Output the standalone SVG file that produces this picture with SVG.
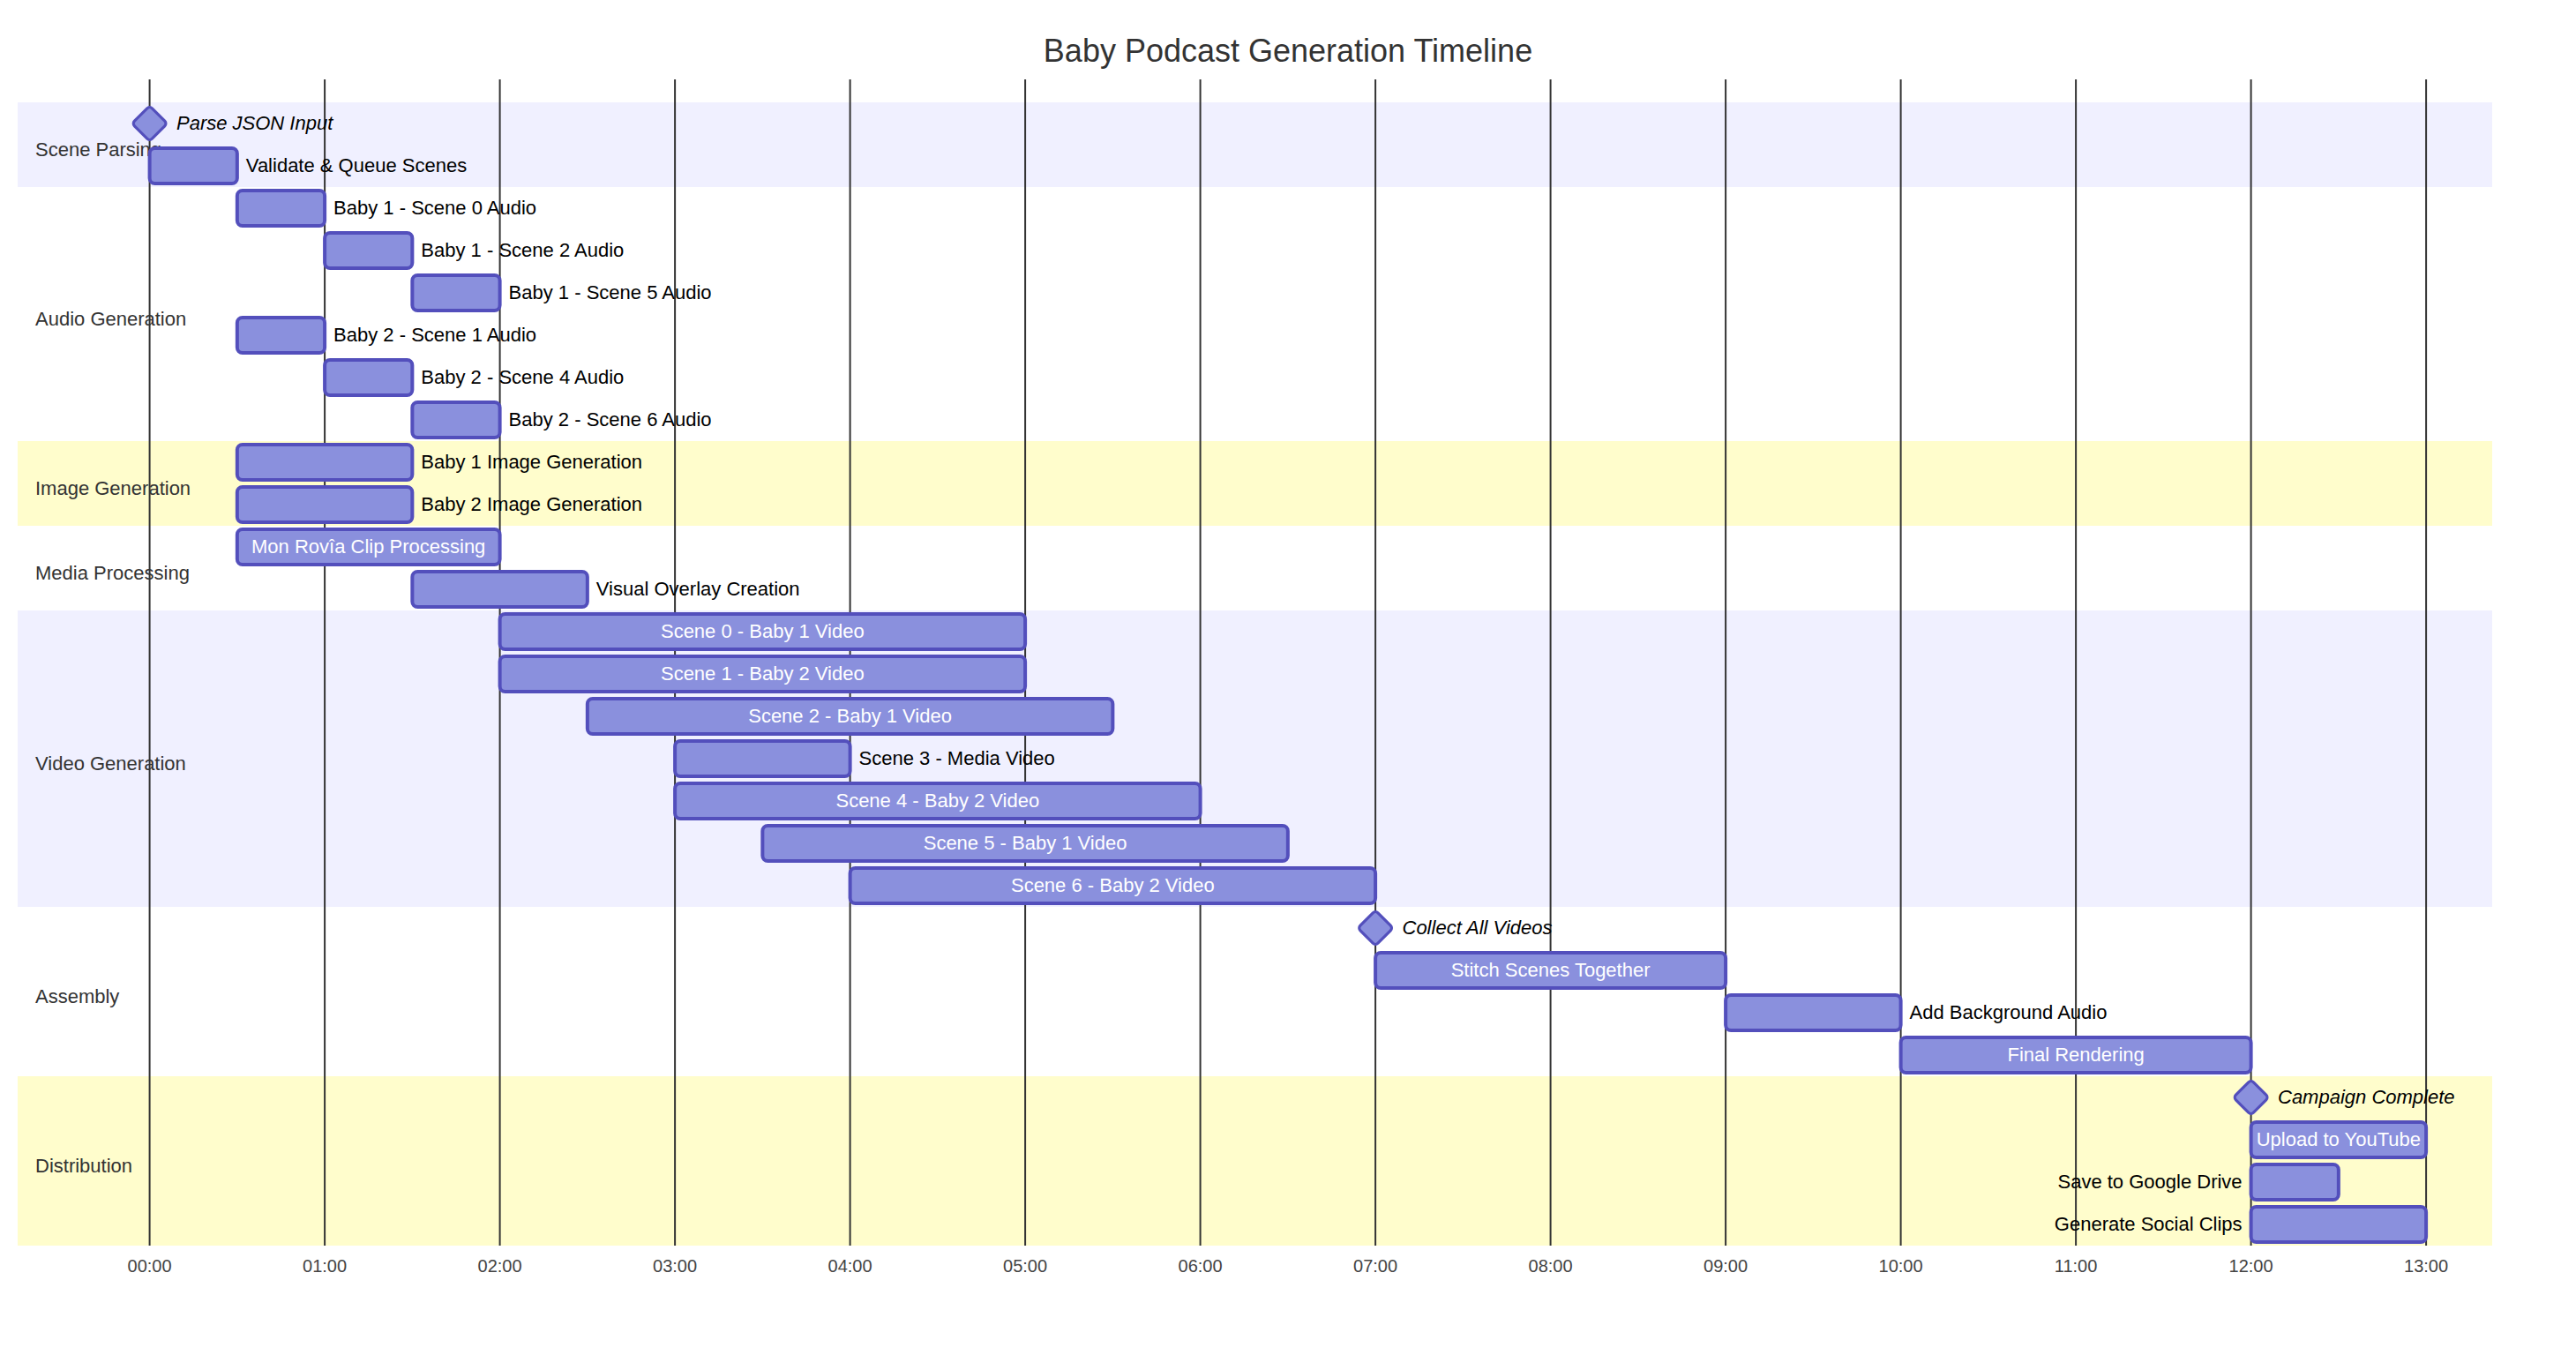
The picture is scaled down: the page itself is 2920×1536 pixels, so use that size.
<svg xmlns="http://www.w3.org/2000/svg" width="2920" height="1536" viewBox="0 0 2920 1536">
<style>
text{font-family:"Liberation Sans",Arial,sans-serif}
.title{font-size:36px;fill:#333;text-anchor:middle}
.sec0{fill:#f0f0ff}
.sec2{fill:#fffdcc}
.grid line{stroke:#333;stroke-width:2}
.tick{font-size:20px;fill:#444;text-anchor:middle}
.stitle{font-size:22px;fill:#333}
.bar{fill:#8a90dd;stroke:#534fbc;stroke-width:4}
.ms{fill:#8a90dd;stroke:#534fbc;stroke-width:3.2}
.out{font-size:22px;fill:#000}
.outL{font-size:22px;fill:#000;text-anchor:end}
.in{font-size:22px;fill:#fff;text-anchor:middle}
.mst{font-size:22px;fill:#000;font-style:italic}
</style>
<rect width="2920" height="1536" fill="#fff"/>
<text class="title" x="1460" y="70">Baby Podcast Generation Timeline</text>

<g id="sections">
<rect class="sec0" x="20" y="116" width="2805" height="96"/>
<rect class="sec2" x="20" y="500" width="2805" height="96"/>
<rect class="sec0" x="20" y="692" width="2805" height="336"/>
<rect class="sec2" x="20" y="1220" width="2805" height="192"/>
</g>

<g id="grid" class="grid">
<line x1="169.6" y1="90" x2="169.6" y2="1412"/>
<line x1="368.1" y1="90" x2="368.1" y2="1412"/>
<line x1="566.6" y1="90" x2="566.6" y2="1412"/>
<line x1="765.1" y1="90" x2="765.1" y2="1412"/>
<line x1="963.6" y1="90" x2="963.6" y2="1412"/>
<line x1="1162.1" y1="90" x2="1162.1" y2="1412"/>
<line x1="1360.6" y1="90" x2="1360.6" y2="1412"/>
<line x1="1559.1" y1="90" x2="1559.1" y2="1412"/>
<line x1="1757.6" y1="90" x2="1757.6" y2="1412"/>
<line x1="1956.1" y1="90" x2="1956.1" y2="1412"/>
<line x1="2154.6" y1="90" x2="2154.6" y2="1412"/>
<line x1="2353.1" y1="90" x2="2353.1" y2="1412"/>
<line x1="2551.6" y1="90" x2="2551.6" y2="1412"/>
<line x1="2750.1" y1="90" x2="2750.1" y2="1412"/>
<text class="tick" x="169.6" y="1442">00:00</text>
<text class="tick" x="368.1" y="1442">01:00</text>
<text class="tick" x="566.6" y="1442">02:00</text>
<text class="tick" x="765.1" y="1442">03:00</text>
<text class="tick" x="963.6" y="1442">04:00</text>
<text class="tick" x="1162.1" y="1442">05:00</text>
<text class="tick" x="1360.6" y="1442">06:00</text>
<text class="tick" x="1559.1" y="1442">07:00</text>
<text class="tick" x="1757.6" y="1442">08:00</text>
<text class="tick" x="1956.1" y="1442">09:00</text>
<text class="tick" x="2154.6" y="1442">10:00</text>
<text class="tick" x="2353.1" y="1442">11:00</text>
<text class="tick" x="2551.6" y="1442">12:00</text>
<text class="tick" x="2750.1" y="1442">13:00</text>
</g>

<g id="section-titles">
<text class="stitle" x="40" y="176.5">Scene Parsing</text>
<text class="stitle" x="40" y="368.5">Audio Generation</text>
<text class="stitle" x="40" y="560.5">Image Generation</text>
<text class="stitle" x="40" y="656.5">Media Processing</text>
<text class="stitle" x="40" y="872.5">Video Generation</text>
<text class="stitle" x="40" y="1136.5">Assembly</text>
<text class="stitle" x="40" y="1328.5">Distribution</text>
</g>

<g id="connectors"></g>

<g id="parse-json">
<rect class="ms" x="-14.14" y="-14.14" width="28.28" height="28.28" rx="4" transform="translate(169.6,140) rotate(45)"/>
<text class="mst" x="200" y="147">Parse JSON Input</text>
</g>
<g id="validate">
<rect class="bar" x="169.6" y="168" width="99.25" height="40" rx="6"/>
<text class="out" x="278.85" y="195">Validate &amp; Queue Scenes</text>
</g>

<g id="b1s0audio">
<rect class="bar" x="268.85" y="216" width="99.25" height="40" rx="6"/>
<text class="out" x="378.1" y="243">Baby 1 - Scene 0 Audio</text>
</g>
<g id="b1s2audio">
<rect class="bar" x="368.1" y="264" width="99.25" height="40" rx="6"/>
<text class="out" x="477.35" y="291">Baby 1 - Scene 2 Audio</text>
</g>
<g id="b1s5audio">
<rect class="bar" x="467.35" y="312" width="99.25" height="40" rx="6"/>
<text class="out" x="576.6" y="339">Baby 1 - Scene 5 Audio</text>
</g>
<g id="b2s1audio">
<rect class="bar" x="268.85" y="360" width="99.25" height="40" rx="6"/>
<text class="out" x="378.1" y="387">Baby 2 - Scene 1 Audio</text>
</g>
<g id="b2s4audio">
<rect class="bar" x="368.1" y="408" width="99.25" height="40" rx="6"/>
<text class="out" x="477.35" y="435">Baby 2 - Scene 4 Audio</text>
</g>
<g id="b2s6audio">
<rect class="bar" x="467.35" y="456" width="99.25" height="40" rx="6"/>
<text class="out" x="576.6" y="483">Baby 2 - Scene 6 Audio</text>
</g>

<g id="b1image">
<rect class="bar" x="268.85" y="504" width="198.5" height="40" rx="6"/>
<text class="out" x="477.35" y="531">Baby 1 Image Generation</text>
</g>
<g id="b2image">
<rect class="bar" x="268.85" y="552" width="198.5" height="40" rx="6"/>
<text class="out" x="477.35" y="579">Baby 2 Image Generation</text>
</g>

<g id="monrovia">
<rect class="bar" x="268.85" y="600" width="297.75" height="40" rx="6"/>
<text class="in" x="417.7" y="627">Mon Rovîa Clip Processing</text>
</g>
<g id="overlay">
<rect class="bar" x="467.35" y="648" width="198.5" height="40" rx="6"/>
<text class="out" x="675.85" y="675">Visual Overlay Creation</text>
</g>

<g id="s0video">
<rect class="bar" x="566.6" y="696" width="595.5" height="40" rx="6"/>
<text class="in" x="864.35" y="723">Scene 0 - Baby 1 Video</text>
</g>
<g id="s1video">
<rect class="bar" x="566.6" y="744" width="595.5" height="40" rx="6"/>
<text class="in" x="864.35" y="771">Scene 1 - Baby 2 Video</text>
</g>
<g id="s2video">
<rect class="bar" x="665.85" y="792" width="595.5" height="40" rx="6"/>
<text class="in" x="963.6" y="819">Scene 2 - Baby 1 Video</text>
</g>
<g id="s3video">
<rect class="bar" x="765.1" y="840" width="198.5" height="40" rx="6"/>
<text class="out" x="973.6" y="867">Scene 3 - Media Video</text>
</g>
<g id="s4video">
<rect class="bar" x="765.1" y="888" width="595.5" height="40" rx="6"/>
<text class="in" x="1062.85" y="915">Scene 4 - Baby 2 Video</text>
</g>
<g id="s5video">
<rect class="bar" x="864.35" y="936" width="595.5" height="40" rx="6"/>
<text class="in" x="1162.1" y="963">Scene 5 - Baby 1 Video</text>
</g>
<g id="s6video">
<rect class="bar" x="963.6" y="984" width="595.5" height="40" rx="6"/>
<text class="in" x="1261.35" y="1011">Scene 6 - Baby 2 Video</text>
</g>

<g id="collect">
<rect class="ms" x="-14.14" y="-14.14" width="28.28" height="28.28" rx="4" transform="translate(1559.1,1052) rotate(45)"/>
<text class="mst" x="1589.5" y="1059">Collect All Videos</text>
</g>
<g id="stitch">
<rect class="bar" x="1559.1" y="1080" width="397" height="40" rx="6"/>
<text class="in" x="1757.6" y="1107">Stitch Scenes Together</text>
</g>
<g id="bgaudio">
<rect class="bar" x="1956.1" y="1128" width="198.5" height="40" rx="6"/>
<text class="out" x="2164.6" y="1155">Add Background Audio</text>
</g>
<g id="render">
<rect class="bar" x="2154.6" y="1176" width="397" height="40" rx="6"/>
<text class="in" x="2353.1" y="1203">Final Rendering</text>
</g>

<g id="campaign">
<rect class="ms" x="-14.14" y="-14.14" width="28.28" height="28.28" rx="4" transform="translate(2551.6,1244) rotate(45)"/>
<text class="mst" x="2582" y="1251">Campaign Complete</text>
</g>
<g id="youtube">
<rect class="bar" x="2551.6" y="1272" width="198.5" height="40" rx="6"/>
<text class="in" x="2650.85" y="1299">Upload to YouTube</text>
</g>
<g id="gdrive">
<rect class="bar" x="2551.6" y="1320" width="99.25" height="40" rx="6"/>
<text class="outL" x="2541.6" y="1347">Save to Google Drive</text>
</g>
<g id="social">
<rect class="bar" x="2551.6" y="1368" width="198.5" height="40" rx="6"/>
<text class="outL" x="2541.6" y="1395">Generate Social Clips</text>
</g>
</svg>
